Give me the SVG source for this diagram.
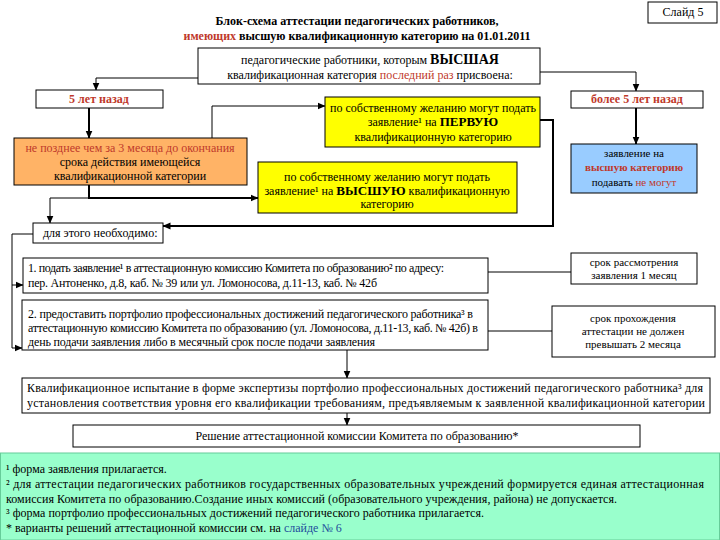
<svg xmlns="http://www.w3.org/2000/svg" width="720" height="540" viewBox="0 0 720 540" font-family="'Liberation Serif', 'DejaVu Serif', serif">
<defs>
<marker id="arr" markerUnits="userSpaceOnUse" markerWidth="8" markerHeight="8" viewBox="0 0 8 8" refX="7.5" refY="4" orient="auto">
<path d="M0,0.5 L8,4 L0,7.5 Z" fill="#000"/>
</marker>
<style>
text{font-family:'Liberation Serif','DejaVu Serif',serif;font-size:12px;fill:#000}
.box{stroke:#000;stroke-width:1;fill:#fff}
.c{text-anchor:middle}
.s{font-size:11px}
.red{fill:#C0392B}
.b{font-weight:bold}
.ln{fill:none;stroke:#000;stroke-width:1}
.la{fill:none;stroke:#000;stroke-width:1;marker-end:url(#arr)}
.la2{fill:none;stroke:#000;stroke-width:2;marker-end:url(#arr)}
</style>
</defs>
<rect width="720" height="540" fill="#fff"/>

<g id="slide">
<rect class="box" x="648" y="2" width="69" height="21"/>
<text class="c" x="683" y="16">Слайд 5</text>
</g>

<g id="title">
<text class="c b" x="357" y="25" textLength="283">Блок-схема аттестации педагогических работников,</text>
<text class="c b" x="357" y="40" textLength="347"><tspan class="red">имеющих</tspan> высшую квалификационную категорию на 01.01.2011</text>
</g>

<g id="connectors">
<path class="la" d="M198,78 H96 V90"/>
<path class="la" d="M540,72 H636 V91"/>
<path class="la2" d="M89,108 V138"/>
<path class="la" d="M212,138 V106 H325"/>
<path class="la2" d="M636,108 V144"/>
<path class="la2" d="M89,185 V198 H258"/>
<path class="la" d="M50,198 H89 M50,198 V223"/>
<path class="la2" d="M540,120 H553 V226 H163"/>
<path class="ln" d="M33,234 H12 V348"/>
<path class="la" d="M12,285 H23"/>
<path class="la" d="M12,348 H22"/>
<path class="ln" d="M488,272 H571"/>
<path class="ln" d="M488,331 H552"/>
<path class="la" d="M347,350 V378"/>
<path class="la" d="M347,413 V425"/>
</g>

<g id="header">
<rect class="box" x="198" y="48" width="342" height="36"/>
<text class="c" x="370" y="64">педагогические работники, которым <tspan class="b" style="font-size:14px">ВЫСШАЯ</tspan></text>
<text class="c" x="370" y="79">квалификационная категория <tspan class="red">последний раз</tspan> присвоена:</text>
</g>

<g id="n5years">
<rect class="box" x="36" y="90" width="127" height="18"/>
<text class="c red b" x="99" y="103">5 лет назад</text>
</g>

<g id="orange">
<rect class="box" x="14" y="138" width="233" height="47" style="fill:#FFB366"/>
<text class="c red" x="130" y="152">не позднее чем за 3 месяца до окончания</text>
<text class="c" x="130" y="166">срока действия имеющейся</text>
<text class="c" x="130" y="180">квалификационной категории</text>
</g>

<g id="yellow1">
<rect class="box" x="325" y="97" width="215" height="50" style="fill:#FFFF00"/>
<text class="c" x="433" y="112">по собственному желанию могут подать</text>
<text class="c" x="433" y="126">заявление¹ на <tspan class="b" style="font-size:13px">ПЕРВУЮ</tspan></text>
<text class="c" x="433" y="141">квалификационную категорию</text>
</g>

<g id="yellow2">
<rect class="box" x="258" y="162" width="259" height="51" style="fill:#FFFF00"/>
<text class="c" x="387" y="181">по собственному желанию могут подать</text>
<text class="c" x="387" y="195">заявление¹ на <tspan class="b" style="font-size:13px">ВЫСШУЮ</tspan> квалификационную</text>
<text class="c" x="387" y="208">категорию</text>
</g>

<g id="more5">
<rect class="box" x="571" y="91" width="132" height="17"/>
<text class="c red b" x="637" y="103">более 5 лет назад</text>
</g>

<g id="blue">
<rect class="box" x="571" y="144" width="126" height="49" style="fill:#99CCFF"/>
<text class="c s" x="634" y="157">заявление на</text>
<text class="c s red b" x="634" y="171">высшую категорию</text>
<text class="c s" x="634" y="186">подавать <tspan class="red">не могут</tspan></text>
</g>

<g id="need">
<rect class="box" x="33" y="223" width="130" height="20"/>
<text x="43" y="237">для  этого необходимо:</text>
</g>

<g id="step1">
<rect class="box" x="23" y="258" width="465" height="35"/>
<text x="28" y="272" textLength="416">1. подать заявление¹ в аттестационную комиссию Комитета по образованию² по адресу:</text>
<text x="28" y="287" textLength="349">пер. Антоненко, д.8, каб. № 39 или ул. Ломоносова, д.11-13, каб. № 42б</text>
</g>

<g id="step2">
<rect class="box" x="22" y="300" width="466" height="50"/>
<text x="28" y="318" textLength="445">2. предоставить портфолио профессиональных достижений педагогического работника³ в</text>
<text x="28" y="332" textLength="450">аттестационную комиссию Комитета по образованию (ул. Ломоносова, д.11-13, каб. № 42б) в</text>
<text x="28" y="346" textLength="347">день подачи заявления либо в месячный срок после подачи заявления</text>
</g>

<g id="term1">
<rect class="box" x="571" y="253" width="126" height="31"/>
<text class="c s" x="634" y="266">срок рассмотрения</text>
<text class="c s" x="634" y="279">заявления 1 месяц</text>
</g>

<g id="term2">
<rect class="box" x="552" y="306" width="163" height="51"/>
<text class="c s" x="633" y="322">срок прохождения</text>
<text class="c s" x="633" y="335">аттестации не должен</text>
<text class="c s" x="633" y="348">превышать 2 месяца</text>
</g>

<g id="qual">
<rect class="box" x="22" y="378" width="688" height="35"/>
<text x="27" y="392" textLength="676">Квалификационное испытание в форме экспертизы портфолио профессиональных достижений педагогического работника³ для</text>
<text x="27" y="407" textLength="678">установления соответствия уровня его квалификации требованиям, предъявляемым к заявленной квалификационной категории</text>
</g>

<g id="decision">
<rect class="box" x="73" y="425" width="567" height="22"/>
<text class="c" x="357" y="440">Решение аттестационной комиссии Комитета по образованию*</text>
</g>

<g id="notes">
<rect x="0.5" y="453" width="719" height="87" fill="#99FFCC" stroke="#6c9" stroke-width="1"/>
<text x="6" y="473">¹ форма заявления прилагается.</text>
<text x="6" y="488" textLength="698">² для аттестации педагогических работников государственных образовательных учреждений формируется единая аттестационная</text>
<text x="6" y="503" textLength="611">комиссия Комитета по образованию.Создание иных комиссий (образовательного учреждения, района) не допускается.</text>
<text x="6" y="517" textLength="478">³ форма портфолио профессиональных достижений педагогического работника прилагается.</text>
<text x="6" y="532">* варианты решений аттестационной комиссии см. на <tspan style="fill:#1F4E9B">слайде № 6</tspan></text>
</g>
</svg>
